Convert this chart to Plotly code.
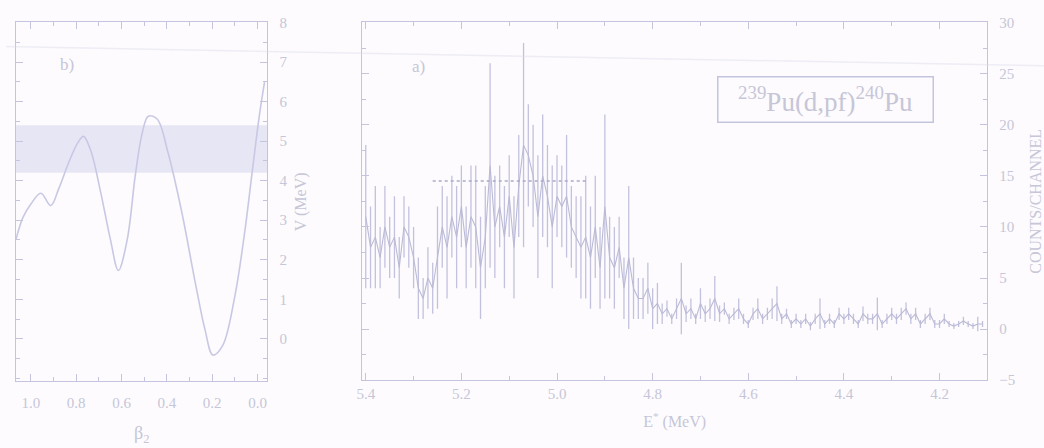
import plotly.graph_objects as go

# ---------------- data ----------------
# Panel (a): fission-coincidence spectrum, 0.01 MeV channels from 5.40 MeV down
E_START = 5.40
E_STEP = 0.01
counts = [11, 8, 9, 7, 10,
          8, 9, 6, 10,
          9, 7, 4, 3,
          5, 4, 7,
          10, 8, 11, 9,
          12, 8, 11,
          10, 6, 9,
          16, 10,
          12, 9, 13, 8,
          14, 18, 17, 15, 11,
          15, 13, 10, 13,
          12, 13, 10, 9,
          8, 9, 7, 10,
          6, 12, 7,
          6, 8, 4,
          7, 4, 3,
          3, 4, 2, 2.5,
          1.5, 2, 1, 2, 3, 1.5, 2, 1, 2.5,
          1.5, 2, 3, 1.5,
          2, 1, 1.5, 2, 1, 0.5, 1.5, 2, 1,
          1.5, 2, 2.5, 1,
          1.5, 0.5, 1, 0.5, 1, 0.3, 1, 1.5,
          0.5, 1, 0.5, 1.5, 1, 1.5, 1, 0.5, 1.5, 1,
          1, 1.5, 0.5, 1, 1.5, 1, 1.5,
          2, 1, 1.5, 0.5, 1, 1.5, 0.5,
          0.5, 1, 0.5, 0.3, 0.5, 0.8, 0.5, 0.3, 0.5, 0.5]
count_err = [7, 4, 5, 3, 4,
             3, 4, 3, 3,
             3, 3, 3, 2,
             3, 2.5, 5,
             4, 5, 4, 5,
             4, 4, 5,
             6, 5, 5,
             10, 5,
             4, 5, 4, 5,
             5, 10, 5, 5, 6,
             6, 5, 6, 4,
             4, 6, 4, 4,
             5, 6, 5, 5,
             4, 9, 4,
             4, 3, 3,
             7, 3, 2,
             2, 2.5, 2, 2,
             1, 0.8, 0.5, 1, 3.5, 0.8, 1, 0.5, 1.5,
             0.8, 1, 2.2, 0.8,
             0.6, 0.5, 0.6, 1, 0.5, 0.4, 0.6, 1, 0.5,
             0.6, 1, 1.7, 0.5,
             0.5, 0.4, 0.5, 0.4, 0.5, 0.4, 0.5, 1.5,
             0.4, 0.5, 0.4, 0.6, 0.5, 0.6, 0.5, 0.4, 0.7, 0.5,
             0.5, 1.6, 0.4, 0.5, 0.6, 0.5, 0.6,
             0.6, 0.5, 0.6, 0.4, 0.5, 0.6, 0.4,
             0.4, 0.5, 0.3, 0.3, 0.3, 0.4, 0.3, 0.3, 0.7, 0.3]
energies = [round(E_START - i * E_STEP, 3) for i in range(len(counts))]

# reference level drawn across the resonance region
level_E = [5.26, 4.94]
level_counts = [14.5, 14.5]

# Panel (b): fission barrier V(beta2)
beta2 = [1.066, 1.035, 1.0, 0.956, 0.912, 0.877, 0.833, 0.794, 0.768, 0.737,
         0.693, 0.649, 0.614, 0.575, 0.539, 0.509, 0.482, 0.443, 0.395, 0.333,
         0.276, 0.232, 0.197, 0.154, 0.101, 0.057, 0.022, -0.009, -0.031]
V = [2.51, 3.07, 3.41, 3.68, 3.37, 3.80, 4.46, 4.95, 5.12, 4.78,
     3.73, 2.51, 1.73, 2.51, 4.15, 5.20, 5.63, 5.56, 4.71, 3.17,
     1.46, 0.24, -0.41, -0.17, 1.05, 2.68, 4.29, 5.68, 6.49]
band_V = [4.2, 5.4]

# axis tick values / labels
a_xticks = [5.4, 5.2, 5.0, 4.8, 4.6, 4.4, 4.2]
a_yticks = [-5, 0, 5, 10, 15, 20, 25, 30]
b_xticks = [1.0, 0.8, 0.6, 0.4, 0.2, 0.0]
b_yticks = [0, 1, 2, 3, 4, 5, 6, 7, 8]

# ---------------- styling ----------------
INK = "rgb(196,196,222)"
TXT = "rgb(198,198,216)"
FONT = "Liberation Serif"
W, H = 1044, 448

fig = go.Figure()

# spectrum with error bars
fig.add_trace(go.Scatter(
    x=energies, y=counts, mode="lines", line=dict(color="rgb(186,186,214)", width=1.1),
    error_y=dict(type="data", array=count_err, visible=True, color="rgb(194,194,222)",
                 thickness=1.3, width=0),
    xaxis="x", yaxis="y", showlegend=False, hoverinfo="skip"))
fig.add_trace(go.Scatter(
    x=level_E, y=level_counts, mode="lines",
    line=dict(color="rgb(170,170,200)", width=1.5, dash="dot"),
    xaxis="x", yaxis="y", showlegend=False, hoverinfo="skip"))

# barrier curve
fig.add_trace(go.Scatter(
    x=beta2, y=V, mode="lines", line=dict(color="rgb(200,200,228)", width=1.6, shape="spline"),
    xaxis="x2", yaxis="y2", showlegend=False, hoverinfo="skip", cliponaxis=True))

# shaded band in panel b
fig.add_shape(type="rect", xref="x2 domain", yref="y2", x0=0, x1=1, y0=band_V[0], y1=band_V[1],
              fillcolor="rgba(214,214,236,0.55)", line=dict(width=0), layer="below")

ydom = [(H - 386) / H, (H - 15) / H]
axis_common = dict(showline=True, linecolor=INK, linewidth=1, mirror="allticks",
                   ticks="inside", tickcolor=INK, ticklen=7, showgrid=False, zeroline=False,
                   tickfont=dict(family=FONT, size=15, color=TXT))

fig.update_layout(
    width=W, height=H, margin=dict(l=0, r=0, t=0, b=0),
    paper_bgcolor="rgb(253,251,253)", plot_bgcolor="rgba(0,0,0,0)",
    font=dict(family=FONT, color=TXT),
    xaxis=dict(domain=[358 / W, 987 / W], range=[5.408, 4.10], tickvals=a_xticks,
               ticktext=[f"{v:.1f}" for v in a_xticks],
               minor=dict(dtick=0.1, ticks="inside", ticklen=4, tickcolor=INK),
               title=dict(text="E<sup>*</sup> (MeV)", font=dict(family=FONT, size=16, color=TXT),
                          standoff=14),
               **axis_common),
    yaxis=dict(domain=ydom, range=[-5, 30], side="right", tickvals=a_yticks,
               minor=dict(dtick=2.5, ticks="inside", ticklen=4, tickcolor=INK),
               ticklabelstandoff=8,
               title=dict(text="COUNTS/CHANNEL", font=dict(family=FONT, size=16, color=TXT),
                          standoff=16),
               **axis_common),
    xaxis2=dict(domain=[10 / W, 263 / W], range=[1.066, -0.044], tickvals=b_xticks,
                ticktext=[f"{v:.1f}" for v in b_xticks], anchor="y2",
                minor=dict(dtick=0.1, ticks="inside", ticklen=4, tickcolor=INK),
                ticklabelstandoff=8,
                title=dict(text="β<sub>2</sub>", font=dict(family=FONT, size=18, color=TXT),
                           standoff=16),
                **axis_common),
    yaxis2=dict(domain=[(H - 387) / H, (H - 15) / H], range=[-1.07, 8.0], side="right",
                anchor="x2", tickvals=b_yticks,
                minor=dict(dtick=0.5, ticks="inside", ticklen=4, tickcolor=INK),
                ticklabelstandoff=8,
                title=dict(text="V (MeV)", font=dict(family=FONT, size=16, color=TXT), standoff=8),
                **axis_common),
)

# panel labels and reaction box
fig.add_annotation(xref="paper", yref="paper", x=415 / W, y=1 - 61 / H, text="a)",
                   xanchor="center", yanchor="middle",
                   showarrow=False, font=dict(family=FONT, size=17, color=TXT))
fig.add_annotation(xref="paper", yref="paper", x=61 / W, y=1 - 59 / H, text="b)",
                   xanchor="center", yanchor="middle",
                   showarrow=False, font=dict(family=FONT, size=17, color=TXT))
fig.add_annotation(xref="paper", yref="paper", x=824 / W, y=1 - 95 / H,
                   xanchor="center", yanchor="middle",
                   text="<sup>239</sup>Pu(d,pf)<sup>240</sup>Pu", showarrow=False,
                   font=dict(family=FONT, size=27, color=TXT),
                   bordercolor=INK, borderwidth=1.5, borderpad=5, width=204, height=34,
                   bgcolor="rgba(0,0,0,0)")

# faint scan streak across the top
fig.add_shape(type="line", xref="paper", yref="paper", x0=0, x1=1, y0=1 - 40 / H, y1=1 - 60 / H,
              line=dict(color="rgba(220,220,235,0.45)", width=1.5))

fig.write_html("out.html")
